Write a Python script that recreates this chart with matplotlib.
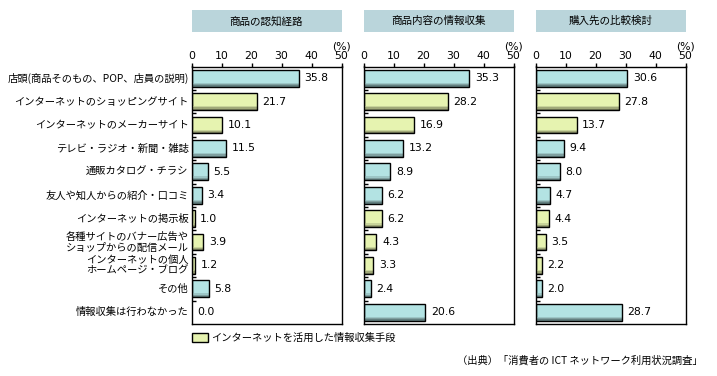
import matplotlib
matplotlib.use('Agg')
import matplotlib.pyplot as plt
from matplotlib.patches import Rectangle
from matplotlib.transforms import blended_transform_factory
import numpy as np

plt.rcParams['font.family'] = ['Noto Sans CJK JP', 'DejaVu Sans']

categories = [
    '店頭(商品そのもの、POP、店員の説明)',
    'インターネットのショッピングサイト',
    'インターネットのメーカーサイト',
    'テレビ・ラジオ・新聞・雑誌',
    '通販カタログ・チラシ',
    '友人や知人からの紹介・口コミ',
    'インターネットの掲示板',
    '各種サイトのバナー広告や\nショップからの配信メール',
    'インターネットの個人\nホームページ・ブログ',
    'その他',
    '情報収集は行わなかった',
]
is_internet = [False, True, True, False, False, False, True, True, True, False, False]
panel_titles = ['商品の認知経路', '商品内容の情報収集', '購入先の比較検討']
values_awareness = [35.8, 21.7, 10.1, 11.5, 5.5, 3.4, 1.0, 3.9, 1.2, 5.8, 0.0]
values_info = [35.3, 28.2, 16.9, 13.2, 8.9, 6.2, 6.2, 4.3, 3.3, 2.4, 20.6]
values_compare = [30.6, 27.8, 13.7, 9.4, 8.0, 4.7, 4.4, 3.5, 2.2, 2.0, 28.7]
xticks = [0, 10, 20, 30, 40, 50]
unit_label = '(%)'
legend_label = 'インターネットを活用した情報収集手段'
source_text = '（出典）「消費者の ICT ネットワーク利用状況調査」'

W, H = 717, 376
fig = plt.figure(figsize=(W / 100, H / 100), dpi=100)

CYAN = '#b3e3e3'
CYAN_SH = ['#9cc6c6', '#7f9f9f', '#627f7f']
YEL = '#e6f3b0'
YEL_SH = ['#c8d49a', '#a0a878', '#7e8460']
BOX = '#bad5db'

panel_x0 = [191.5, 363.5, 535.5]
panel_w = 150
ytop, ybot = 66.5, 324
all_values = [values_awareness, values_info, values_compare]
n = len(categories)
bh = 0.72
cjk_size = 7.4

for p, (x0, vals, title) in enumerate(zip(panel_x0, all_values, panel_titles)):
    ax = fig.add_axes([x0 / W, 1 - ybot / H, panel_w / W, (ybot - ytop) / H])
    ax.set_xlim(0, 50)
    ax.set_ylim(n - 0.5, -0.5)
    for i, v in enumerate(vals):
        fc = YEL if is_internet[i] else CYAN
        sh = YEL_SH if is_internet[i] else CYAN_SH
        if v > 0:
            ax.barh(i, v, height=bh, color=fc, linewidth=0, zorder=2)
            s = 0.055
            for k, c in enumerate(sh):
                yy = i + bh / 2 - s * (len(sh) - k) + s / 2
                ax.barh(yy, v, height=s, color=c, linewidth=0, zorder=3)
            ax.barh(i, v, height=bh, fill=False, edgecolor='black', linewidth=1.0, zorder=4)
        ax.annotate(f'{v:.1f}', xy=(v, i), xytext=(4, 0), textcoords='offset points',
                    va='center', ha='left', fontsize=7.8, family='DejaVu Sans')
    ax.xaxis.tick_top()
    ax.set_xticks(xticks)
    ax.set_xticklabels([str(t) for t in xticks], family='DejaVu Sans')
    ax.tick_params(axis='x', direction='out', length=3, pad=1, labelsize=7.8, width=1)
    ax.set_yticks(np.arange(0.5, n - 1, 1))
    ax.set_yticklabels([])
    ax.tick_params(axis='y', direction='in', length=3, width=1)
    for sp in ax.spines.values():
        sp.set_linewidth(1.0)
        sp.set_color('black')
    if p == 0:
        tr = blended_transform_factory(ax.transAxes, ax.transData)
        for i, c in enumerate(categories):
            ax.text(-0.02, i, c, transform=tr, ha='right', va='center',
                    fontsize=cjk_size, linespacing=1.1)
    # title box
    fig.patches.append(Rectangle((x0 / W, 1 - 31.7 / H), (panel_w + 0.5) / W, 21.7 / H,
                                 transform=fig.transFigure, facecolor=BOX, edgecolor='none'))
    fig.text((x0 + panel_w / 2) / W, 1 - 21 / H, title, ha='center', va='center', fontsize=7.6)
    fig.text((x0 + panel_w) / W, 1 - 46.5 / H, unit_label, ha='center', va='center',
             fontsize=7.8, family='DejaVu Sans')

# legend
fig.patches.append(Rectangle((191.5 / W, 1 - 341.7 / H), 16.5 / W, 9 / H,
                             transform=fig.transFigure, facecolor=YEL, edgecolor='black', linewidth=1))
fig.text(211 / W, 1 - 337.5 / H, legend_label, ha='left', va='center', fontsize=cjk_size)
fig.text(703 / W, 1 - 361 / H, source_text, ha='right', va='center', fontsize=cjk_size)

fig.savefig('out.png', dpi=100)
